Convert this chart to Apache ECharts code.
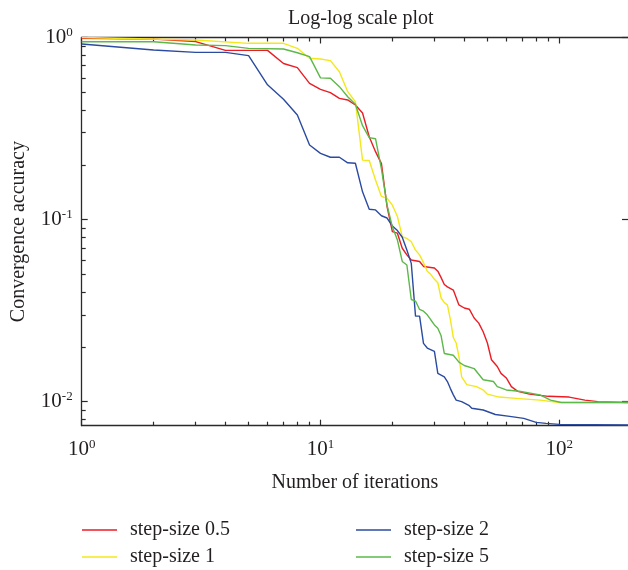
<!DOCTYPE html>
<html>
<head>
<meta charset="utf-8">
<script src="https://cdn.jsdelivr.net/npm/echarts@6/dist/echarts.min.js"></script>
<style>
html,body{margin:0;padding:0;background:#fff;}
#chart{width:628px;height:570px;}
</style>
</head>
<body>
<div id="chart"></div>
<script>
// ---- data ----
const seriesNames = ['step-size 0.5', 'step-size 1', 'step-size 2', 'step-size 5'];

const iterRed = [1,2,3,4,6,7,8,9,10,11,12,13,14,15,16,17,18,19,20,21,22,23,24,26,27,30,31,32,33,34,36,38,40,42,44,46,48,50,52,55,57,60,63,67,75,90,110,128,145,194];
const accRed  = [0.99,0.98,0.95,0.85,0.85,0.72,0.683,0.56,0.519,0.498,0.463,0.454,0.426,0.385,0.285,0.236,0.203,0.118,0.0859,0.0842,0.0696,0.064,0.060,0.0589,0.0553,0.0542,0.0521,0.048,0.044,0.0427,0.041,0.034,0.0327,0.0322,0.0288,0.027,0.0242,0.021,0.017,0.0156,0.0143,0.0135,0.0121,0.0114,0.011,0.0107,0.0106,0.0102,0.0100,0.0099];

const iterYellow = [1,3,5,7,8,9,10,11,12,13,14,15,16,17,18,19,20,21,22,23,24,25,26,27,28,29,30,31,32,33,34,35,36,37,38,39,41,45,48,50,56,68,83,100,194];
const accYellow  = [1.0,0.969,0.929,0.929,0.872,0.769,0.762,0.746,0.649,0.504,0.444,0.212,0.211,0.165,0.134,0.131,0.120,0.104,0.0805,0.0788,0.0756,0.068,0.064,0.058,0.052,0.0499,0.047,0.045,0.0371,0.035,0.034,0.0282,0.0225,0.021,0.0177,0.0137,0.0124,0.0121,0.0116,0.011,0.0106,0.0104,0.0102,0.0099,0.0099];

const iterBlue = [1,2,3,4,5,6,7,8,9,10,11,12,13,14,15,16,17,18,19,20,21,22,23,24,25,26,27,28,30,31,33,34,35,36,37,39,42,43,48,54,62,71,80,88,100,194];
const accBlue  = [0.921,0.854,0.829,0.829,0.795,0.55,0.458,0.375,0.257,0.231,0.220,0.220,0.205,0.204,0.142,0.114,0.113,0.105,0.102,0.0922,0.087,0.080,0.068,0.0575,0.0295,0.0295,0.0209,0.0197,0.0189,0.0143,0.0137,0.0129,0.0118,0.0109,0.0102,0.0100,0.0095,0.0092,0.0090,0.0085,0.0083,0.0081,0.0077,0.0076,0.0075,0.00745];

const iterGreen = [1,2,3,4,5,7,8,9,10,11,12,13,14,15,16,17,18,19,20,21,22,23,24,25,26,27,28,29,30,31,32,33,36,38,40,44,48,53,55,60,68,83,92,102,194];
const accGreen  = [0.948,0.948,0.910,0.902,0.872,0.865,0.825,0.785,0.600,0.597,0.537,0.473,0.430,0.328,0.282,0.278,0.190,0.120,0.0912,0.0772,0.0589,0.0563,0.0364,0.0357,0.0321,0.0314,0.0300,0.0281,0.0264,0.0253,0.0230,0.0184,0.0180,0.0165,0.0158,0.0152,0.0132,0.0129,0.0121,0.0116,0.0114,0.0109,0.0102,0.0099,0.0099];

const xMajorTicks = [1, 10, 100];
const xMinorTicks = [2,3,4,5,6,7,8,9,20,30,40,50,60,70,80,90];
const yMajorTicks = [0.01, 0.1, 1];
const yMinorTicks = [0.008,0.009,0.02,0.03,0.04,0.05,0.06,0.07,0.08,0.09,0.2,0.3,0.4,0.5,0.6,0.7,0.8,0.9];

const X_MIN = 1, X_MAX = 194, Y_MIN = 0.00738, Y_MAX = 1;
const colors = ['#ec1c24', '#f4e81a', '#2b4ba0', '#5cb848'];

// ---- chart ----
const FONT = '"Liberation Serif", "DejaVu Serif", serif';
const TXT = '#231f20';
const AX = '#2a2a2a';

function pow10Label(v) {
  const e = Math.round(Math.log10(v));
  return '{b|10}{s|' + e + '}';
}
const richLabel = {
  b: { fontFamily: FONT, fontSize: 21, color: TXT },
  s: { fontFamily: FONT, fontSize: 13, color: TXT, padding: [0, 0, 10, 0] }
};

function pairs(xs, ys) { return xs.map((x, i) => [x, ys[i]]); }

function xAxisDef(position, ticks, len, showLine, showLabel) {
  return {
    type: 'log', logBase: 10, position: position, gridIndex: 0,
    min: X_MIN, max: X_MAX,
    axisLine: { show: showLine, onZero: false, lineStyle: { color: AX, width: 1.3 } },
    axisTick: { show: true, inside: true, length: len, customValues: ticks, lineStyle: { color: AX, width: 1.2 } },
    axisLabel: showLabel ? { show: true, customValues: ticks, margin: 12, formatter: pow10Label, rich: richLabel } : { show: false },
    splitLine: { show: false }, minorTick: { show: false }, minorSplitLine: { show: false }
  };
}
function yAxisDef(position, ticks, len, showLine, showLabel) {
  return {
    type: 'log', logBase: 10, position: position, gridIndex: 0,
    min: Y_MIN, max: Y_MAX,
    axisLine: { show: showLine, onZero: false, lineStyle: { color: AX, width: 1.3 } },
    axisTick: { show: true, inside: true, length: len, customValues: ticks, lineStyle: { color: AX, width: 1.2 } },
    axisLabel: showLabel ? { show: true, customValues: ticks, margin: 9, formatter: pow10Label, rich: richLabel } : { show: false },
    splitLine: { show: false }, minorTick: { show: false }, minorSplitLine: { show: false }
  };
}

const xMain = xAxisDef('bottom', xMajorTicks, 6, true, true);
xMain.name = 'Number of iterations';
xMain.nameLocation = 'middle';
xMain.nameGap = 47;
xMain.nameTextStyle = { fontFamily: FONT, fontSize: 20, color: TXT };

const yMain = yAxisDef('left', yMajorTicks, 6, true, true);
yMain.name = 'Convergence accuracy';
yMain.nameLocation = 'middle';
yMain.nameGap = 53;
yMain.nameTextStyle = { fontFamily: FONT, fontSize: 20, color: TXT };

const legendCommon = {
  orient: 'vertical', top: 520, padding: 0,
  icon: 'rect', itemWidth: 35, itemHeight: 1.6, itemGap: 7,
  textStyle: { fontFamily: FONT, fontSize: 20, lineHeight: 20, color: TXT, padding: [0, 0, 0, 8] }
};

const chart = echarts.init(document.getElementById('chart'), null, { renderer: 'canvas' });
chart.setOption({
  backgroundColor: '#fff',
  animation: false,
  color: colors,
  title: {
    text: 'Log-log scale plot', left: 283, top: 4,
    textStyle: { fontFamily: FONT, fontSize: 20, fontWeight: 'normal', color: TXT }
  },
  grid: { left: 81.7, top: 37.5, width: 547, height: 388.2, containLabel: false },
  legend: [
    Object.assign({ data: [seriesNames[0], seriesNames[1]], left: 82 }, legendCommon),
    Object.assign({ data: [seriesNames[2], seriesNames[3]], left: 356 }, legendCommon)
  ],
  xAxis: [
    xMain,
    xAxisDef('bottom', xMinorTicks, 4, false, false),
    xAxisDef('top', xMajorTicks, 6, true, false),
    xAxisDef('top', xMinorTicks, 4, false, false)
  ],
  yAxis: [
    yMain,
    yAxisDef('left', yMinorTicks, 4, false, false),
    yAxisDef('right', yMajorTicks, 6, false, false)
  ],
  series: [
    { name: seriesNames[0], type: 'line', data: pairs(iterRed, accRed) },
    { name: seriesNames[1], type: 'line', data: pairs(iterYellow, accYellow) },
    { name: seriesNames[2], type: 'line', data: pairs(iterBlue, accBlue) },
    { name: seriesNames[3], type: 'line', data: pairs(iterGreen, accGreen) }
  ].map(s => Object.assign(s, {
    xAxisIndex: 0, yAxisIndex: 0, symbol: 'none', showSymbol: false, smooth: false,
    lineStyle: { width: 1.4 }, emphasis: { disabled: true }
  }))
});
</script>
</body>
</html>
